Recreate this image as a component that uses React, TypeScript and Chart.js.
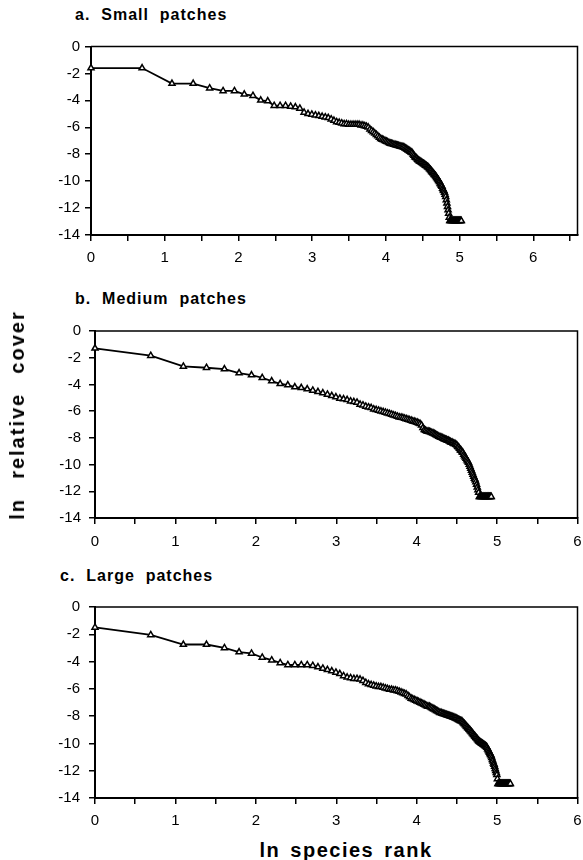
import React, { useEffect, useRef } from "react";
import { Chart, registerables } from "chart.js";

Chart.register(...registerables);

// ln relative cover by species rank (rank 1..N)
const smallPatches: number[] = [
  -1.6, -1.6, -2.75, -2.75, -3.1, -3.3, -3.3, -3.55, -3.65, -4.0,
  -4.05, -4.4, -4.4, -4.4, -4.45, -4.5, -4.6, -4.9, -5.0, -5.05,
  -5.1, -5.15, -5.2, -5.25, -5.3, -5.4, -5.5, -5.6, -5.65, -5.7,
  -5.75, -5.75, -5.8, -5.8, -5.8, -5.8, -5.8, -5.8, -5.85, -5.85,
  -5.9, -5.95, -6.0, -6.15, -6.25, -6.35, -6.45, -6.55, -6.65, -6.75,
  -6.85, -6.9, -6.95, -7.0, -7.05, -7.1, -7.15, -7.2, -7.22, -7.25,
  -7.28, -7.3, -7.33, -7.36, -7.38, -7.4, -7.42, -7.44, -7.46, -7.5,
  -7.55, -7.6, -7.65, -7.7, -7.75, -7.8, -7.85, -7.9, -8.0, -8.1,
  -8.2, -8.25, -8.3, -8.4, -8.45, -8.5, -8.55, -8.58, -8.62, -8.67,
  -8.7, -8.75, -8.8, -8.83, -8.88, -8.93, -8.97, -9.03, -9.1, -9.16,
  -9.22, -9.3, -9.36, -9.42, -9.48, -9.55, -9.6, -9.68, -9.75, -9.83,
  -9.9, -9.98, -10.05, -10.15, -10.24, -10.32, -10.4, -10.55, -10.65, -10.72,
  -10.85, -11.0, -11.15, -11.4, -11.65, -11.9, -12.15, -12.4, -12.7, -12.95,
  -12.95, -12.95, -12.95, -12.95, -12.95, -12.95, -12.95, -12.95, -12.95, -12.95,
  -12.95, -12.95, -12.95, -12.95, -12.95, -12.95, -12.95, -12.95, -12.95, -12.95,
  -12.95, -12.95,
];

const mediumPatches: number[] = [
  -1.3, -1.85, -2.65, -2.75, -2.85, -3.15, -3.3, -3.5, -3.75, -3.95,
  -4.05, -4.2, -4.25, -4.35, -4.45, -4.55, -4.65, -4.75, -4.85, -4.95,
  -5.05, -5.1, -5.15, -5.25, -5.3, -5.35, -5.5, -5.55, -5.65, -5.7,
  -5.75, -5.85, -5.9, -5.95, -6.0, -6.05, -6.1, -6.15, -6.2, -6.25,
  -6.3, -6.35, -6.4, -6.45, -6.47, -6.5, -6.55, -6.58, -6.62, -6.67,
  -6.7, -6.75, -6.78, -6.82, -6.85, -6.9, -6.95, -7.05, -7.25, -7.4,
  -7.45, -7.5, -7.52, -7.55, -7.58, -7.62, -7.65, -7.7, -7.75, -7.8,
  -7.85, -7.9, -7.93, -7.97, -8.0, -8.05, -8.08, -8.12, -8.15, -8.2,
  -8.2, -8.25, -8.3, -8.35, -8.35, -8.4, -8.45, -8.45, -8.5, -8.55,
  -8.65, -8.7, -8.8, -8.9, -8.95, -9.05, -9.1, -9.25, -9.35, -9.45,
  -9.55, -9.65, -9.75, -9.85, -10.0, -10.15, -10.3, -10.45, -10.6, -10.75,
  -10.9, -11.05, -11.15, -11.3, -11.5, -11.7, -11.9, -12.1, -12.4,
  -12.4, -12.4, -12.4, -12.4, -12.4, -12.4, -12.4, -12.4, -12.4, -12.4,
  -12.4, -12.4, -12.4, -12.4, -12.4, -12.4, -12.4, -12.4, -12.4,
];

const largePatches: number[] = [
  -1.5, -2.05, -2.75, -2.75, -3.0, -3.3, -3.4, -3.7, -3.9, -4.1,
  -4.25, -4.25, -4.25, -4.25, -4.3, -4.4, -4.5, -4.6, -4.7, -4.8,
  -4.9, -5.05, -5.15, -5.2, -5.25, -5.25, -5.3, -5.4, -5.55, -5.65,
  -5.7, -5.75, -5.8, -5.85, -5.85, -5.9, -5.95, -6.0, -6.05, -6.05,
  -6.1, -6.1, -6.15, -6.2, -6.25, -6.3, -6.35, -6.4, -6.5, -6.6,
  -6.7, -6.75, -6.8, -6.85, -6.9, -6.95, -7.0, -7.05, -7.1, -7.15,
  -7.2, -7.25, -7.3, -7.3, -7.35, -7.4, -7.45, -7.5, -7.55, -7.6,
  -7.65, -7.7, -7.75, -7.75, -7.8, -7.82, -7.85, -7.88, -7.9, -7.93,
  -7.96, -7.98, -8.0, -8.03, -8.05, -8.08, -8.1, -8.13, -8.15, -8.19,
  -8.23, -8.26, -8.3, -8.33, -8.36, -8.38, -8.45, -8.52, -8.58, -8.65,
  -8.72, -8.78, -8.85, -8.91, -8.98, -9.03, -9.1, -9.17, -9.23, -9.3,
  -9.37, -9.43, -9.5, -9.56, -9.62, -9.68, -9.74, -9.8, -9.86, -9.9,
  -9.93, -9.97, -10.0, -10.03, -10.07, -10.1, -10.13, -10.17, -10.2, -10.24,
  -10.3, -10.4, -10.48, -10.58, -10.67, -10.75, -10.83, -10.92, -11.05, -11.2,
  -11.3, -11.45, -11.55, -11.7, -11.85, -12.0, -12.15, -12.3, -12.6,
  -12.95, -12.95, -12.95, -12.95, -12.95, -12.95, -12.95, -12.95, -12.95, -12.95,
  -12.95, -12.95, -12.95, -12.95, -12.95, -12.95, -12.95, -12.95, -12.95, -12.95,
  -12.95, -12.95, -12.95, -12.95, -12.95, -12.95,
];

const panelTitles = ["a.  Small  patches", "b.  Medium  patches", "c.  Large  patches"];
const yAxisTitle = "ln  relative  cover";
const xAxisTitle = "ln  species  rank";
const yTickValues = [0, -2, -4, -6, -8, -10, -12, -14];

const FONT = "'Liberation Sans', Arial, Helvetica, sans-serif";

type Layout = {
  top: number; height: number; padTop: number; padRight: number;
  yWidth: number; xHeight: number; xMax: number; yPad: number; xPad: number;
};

const framePlugin = {
  id: "frame",
  afterDatasetsDraw(chart: any) {
    const { ctx, chartArea } = chart;
    ctx.save();
    ctx.strokeStyle = "#000";
    ctx.lineWidth = 1.5;
    ctx.beginPath();
    ctx.moveTo(chartArea.left, chartArea.top);
    ctx.lineTo(chartArea.right, chartArea.top);
    ctx.lineTo(chartArea.right, chartArea.bottom);
    ctx.stroke();
    ctx.restore();
  },
};

function Panel({ values, layout }: { values: number[]; layout: Layout }) {
  const ref = useRef<HTMLCanvasElement | null>(null);
  useEffect(() => {
    if (!ref.current) return;
    const pts = values.map((y, i) => ({ x: Math.log(i + 1), y }));
    const chart = new Chart(ref.current, {
      type: "scatter",
      data: {
        datasets: [
          {
            data: pts,
            showLine: true,
            borderColor: "#000",
            borderWidth: 1.8,
            pointStyle: "triangle",
            pointRadius: 3.5,
            pointBorderWidth: 1.5,
            pointBackgroundColor: "#fff",
            pointBorderColor: "#000",
            clip: false,
          } as any,
        ],
      },
      options: {
        responsive: false,
        animation: false,
        events: [],
        layout: { padding: { top: layout.padTop, right: layout.padRight, left: 0, bottom: 0 } },
        plugins: { legend: { display: false }, tooltip: { enabled: false }, title: { display: false } },
        scales: {
          x: {
            type: "linear",
            min: 0,
            max: layout.xMax,
            afterFit: (s: any) => {
              s.height = layout.xHeight;
              s.paddingLeft = 0;
              s.paddingRight = 0;
            },
            ticks: {
              stepSize: 0.5,
              autoSkip: false,
              includeBounds: false,
              maxRotation: 0,
              padding: layout.xPad,
              color: "#000",
              font: { family: FONT, size: 15 },
              callback: (v: any) => (Number.isInteger(v) ? String(v) : ""),
            },
            grid: { drawOnChartArea: false, drawTicks: true, tickLength: 6, color: "#000", lineWidth: 1.5 },
            border: { display: true, color: "#000", width: 2 },
          },
          y: {
            type: "linear",
            min: -14,
            max: 0,
            afterFit: (s: any) => {
              s.width = layout.yWidth;
              s.paddingTop = 0;
              s.paddingBottom = 0;
            },
            afterBuildTicks: (s: any) => { s.ticks = yTickValues.map((v) => ({ value: v })); },
            ticks: {
              padding: layout.yPad,
              color: "#000",
              font: { family: FONT, size: 15 },
              callback: (v: any) => String(v),
            },
            grid: { drawOnChartArea: false, drawTicks: true, tickLength: 6, color: "#000", lineWidth: 1.5 },
            border: { display: true, color: "#000", width: 2 },
          },
        },
      },
      plugins: [framePlugin],
    });
    return () => chart.destroy();
  }, [values, layout]);
  return (
    <canvas
      ref={ref}
      width={583}
      height={layout.height}
      style={{ position: "absolute", left: 0, top: layout.top, width: 583, height: layout.height }}
    />
  );
}

const layouts: Layout[] = [
  { top: 30, height: 245, padTop: 16.5, padRight: 2, yWidth: 91, xHeight: 40, xMax: 6.6, yPad: 5, xPad: 8 },
  { top: 315, height: 245, padTop: 16, padRight: 4, yWidth: 95, xHeight: 42, xMax: 6, yPad: 8, xPad: 9 },
  { top: 590, height: 245, padTop: 17, padRight: 4, yWidth: 95, xHeight: 37, xMax: 6, yPad: 9, xPad: 8 },
];

const titlePos = [
  { left: 75, top: 7 },
  { left: 75, top: 291 },
  { left: 60, top: 568 },
];

export default function App() {
  const series = [smallPatches, mediumPatches, largePatches];
  return (
    <div style={{ position: "absolute", left: 0, top: 0, width: 583, height: 860, background: "#fff", overflow: "hidden" }}>
      {series.map((s, i) => (
        <Panel key={i} values={s} layout={layouts[i]} />
      ))}
      {panelTitles.map((t, i) => (
        <div
          key={t}
          style={{
            position: "absolute",
            left: titlePos[i].left,
            top: titlePos[i].top,
            font: `bold 16px ${FONT}`,
            lineHeight: "16px",
            letterSpacing: "1px",
            whiteSpace: "pre",
            color: "#000",
          }}
        >
          {t}
        </div>
      ))}
      <div
        style={{
          position: "absolute",
          left: 17,
          top: 415,
          transform: "translate(-50%, -50%) rotate(-90deg)",
          font: `bold 20px ${FONT}`,
          lineHeight: "20px",
          letterSpacing: "2px",
          wordSpacing: "2px",
          whiteSpace: "pre",
          color: "#000",
        }}
      >
        {yAxisTitle}
      </div>
      <div
        style={{
          position: "absolute",
          left: 346,
          top: 850,
          transform: "translate(-50%, -50%)",
          font: `bold 20px ${FONT}`,
          lineHeight: "20px",
          letterSpacing: "1.5px",
          wordSpacing: "-2px",
          whiteSpace: "pre",
          color: "#000",
        }}
      >
        {xAxisTitle}
      </div>
    </div>
  );
}
